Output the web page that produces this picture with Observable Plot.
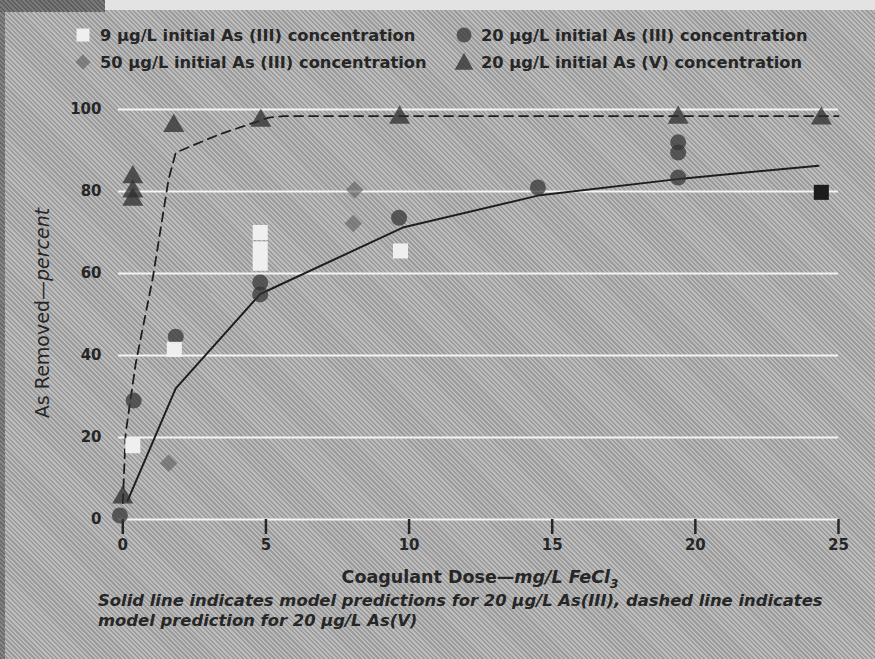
<!DOCTYPE html>
<html>
<head>
<meta charset="utf-8">
<script src="https://cdn.jsdelivr.net/npm/d3@7"></script>
<script src="https://cdn.jsdelivr.net/npm/@observablehq/plot@0.6"></script>
<style>
  html, body { margin: 0; padding: 0; }
  body {
    width: 875px; height: 659px; overflow: hidden; position: relative;
    background: repeating-linear-gradient(45deg, #bdbdbd 0px, #bdbdbd 1.6px, #9b9b9b 1.6px, #9b9b9b 3.2px);
    font-family: "DejaVu Sans", sans-serif; color: #262626;
  }
  #topdark { position: absolute; left: 0; top: 0; width: 105px; height: 12px;
    background: repeating-linear-gradient(45deg, #5e5e5e 0px, #5e5e5e 1.6px, #7a7a7a 1.6px, #7a7a7a 3.2px); }
  #topband { position: absolute; left: 105px; top: 0; width: 770px; height: 10px; background: #e3e3e3; }
  #leftstrip { position: absolute; left: 0; top: 12px; width: 5px; height: 647px;
    background: repeating-linear-gradient(45deg, #6a6a6a 0px, #6a6a6a 1.6px, #858585 1.6px, #858585 3.2px); }
  .leg { position: absolute; height: 22px; display: flex; align-items: center;
    font-weight: bold; font-size: 16.3px; white-space: nowrap; }
  .leg svg { width: 22px; height: 22px; margin-right: 6px; overflow: visible; }
  #chart { position: absolute; left: 0; top: 82px; }
  #ytitle { position: absolute; left: 42px; top: 313px; transform: translate(-50%, -50%) rotate(-90deg);
    font-size: 19px; white-space: nowrap; }
  #xtitle { position: absolute; left: 480px; top: 579px; transform: translate(-50%, -50%);
    font-size: 17.5px; font-weight: bold; white-space: nowrap; }
  #caption { position: absolute; left: 98px; top: 591px; font-size: 16.4px; font-weight: bold;
    font-style: italic; line-height: 20px; white-space: nowrap; }
</style>
</head>
<body>
<div id="topdark"></div>
<div id="topband"></div>
<div id="leftstrip"></div>
<div id="legend"></div>
<div id="chart"></div>
<div id="ytitle">As Removed—<i>percent</i></div>
<div id="xtitle">Coagulant Dose—<i>mg/L FeCl<sub style="font-size:12px">3</sub></i></div>
<div id="caption">Solid line indicates model predictions for 20 µg/L As(III), dashed line indicates<br>model prediction for 20 µg/L As(V)</div>
<script>
// ---- axis ticks ----
const xTicks = [0, 5, 10, 15, 20, 25];
const yTicks = [0, 20, 40, 60, 80, 100];

// ---- 9 µg/L initial As(III) (white squares) ----
const as3_9_dose = [0.35, 1.8, 4.8, 4.8, 4.8, 9.7];
const as3_9_pct  = [18, 41.5, 70, 66, 62.5, 65.5];

// ---- dark square (unlabelled point at 24.4) ----
const dark_dose = [24.4];
const dark_pct  = [79.8];

// ---- 20 µg/L initial As(III) (circles) ----
const as3_20_dose = [-0.1, 0.38, 1.85, 4.8, 4.8, 9.65, 14.5, 19.4, 19.4, 19.4];
const as3_20_pct  = [1, 29, 44.6, 57.8, 54.9, 73.6, 81, 83.4, 89.5, 92];

// ---- 50 µg/L initial As(III) (diamonds) ----
const as3_50_dose = [1.6, 8.1, 8.05];
const as3_50_pct  = [13.7, 80.4, 72.2];

// ---- 20 µg/L initial As(V) (triangles) ----
const as5_20_dose = [0, 0.35, 0.35, 0.35, 1.78, 4.82, 9.67, 19.4, 24.4];
const as5_20_pct  = [5.4, 83.5, 80, 78, 96, 97.3, 98, 98, 97.8];

// ---- model predictions ----
const solid_dose = [0.17, 1.85, 4.8, 9.78, 14.5, 19.6, 24.3];
const solid_pct  = [4.6, 32, 55, 71.2, 79, 83.2, 86.3];
const dashed_dose = [0, 0.1, 0.45, 1.05, 1.6, 1.85, 3.4, 5.1, 5.6, 25];
const dashed_pct  = [4, 21, 38, 59, 83, 89.5, 94, 98, 98.4, 98.4];

// ---- legend entries ----
const legendLabels = [
  "9 µg/L initial As (III) concentration",
  "20 µg/L initial As (III) concentration",
  "50 µg/L initial As (III) concentration",
  "20 µg/L initial As (V) concentration"
];

const rows = (xs, ys) => xs.map((d, i) => ({dose: d, pct: ys[i]}));

const sqStyle = {fill: "#f2f2f2", fillOpacity: 0.95};
const circStyle = {fill: "#333333", fillOpacity: 0.72};
const diaStyle = {fill: "#5e5e5e", fillOpacity: 0.6};
const triStyle = {fill: "#2e2e2e", fillOpacity: 0.75};

const chart = Plot.plot({
  width: 875,
  height: 483,
  marginTop: 27,
  marginBottom: 46,
  marginLeft: 118,
  marginRight: 37,
  style: {background: "transparent", fontFamily: "DejaVu Sans", color: "#262626"},
  x: {domain: [-0.15, 25]},
  y: {domain: [0, 100]},
  marks: [
    Plot.gridY(yTicks, {stroke: "#f4f4f4", strokeOpacity: 1, strokeWidth: 2}),
    Plot.axisY(yTicks, {tickSize: 0, tickPadding: 17, fontSize: 15, fontWeight: "bold", color: "#262626", label: null}),
    Plot.axisX(xTicks, {tickSize: 15, tickPadding: 5, strokeWidth: 2.5, fontSize: 15, fontWeight: "bold", color: "#262626", label: null}),
    Plot.line(rows(solid_dose, solid_pct), {x: "dose", y: "pct", stroke: "#1e1e1e", strokeWidth: 2}),
    Plot.line(rows(dashed_dose, dashed_pct), {x: "dose", y: "pct", stroke: "#1e1e1e", strokeWidth: 1.8, strokeDasharray: "9,6"}),
    Plot.dot(rows(as3_50_dose, as3_50_pct), {x: "dose", y: "pct", symbol: "square", r: 7, rotate: 45, ...diaStyle}),
    Plot.dot(rows(as5_20_dose, as5_20_pct), {x: "dose", y: "pct", symbol: "triangle", r: 7.8, ...triStyle}),
    Plot.dot(rows(as3_20_dose, as3_20_pct), {x: "dose", y: "pct", symbol: "circle", r: 8, ...circStyle}),
    Plot.dot(rows(as3_9_dose, as3_9_pct), {x: "dose", y: "pct", symbol: "square", r: 8.5, ...sqStyle}),
    Plot.dot(rows(dark_dose, dark_pct), {x: "dose", y: "pct", symbol: "square", r: 8.5, fill: "#1c1c1c"})
  ]
});
document.getElementById("chart").appendChild(chart);

// ---- legend (2 x 2) ----
const legendPos = [
  {left: 72, top: 24, sym: "square", style: sqStyle, rot: 0, size: 13},
  {left: 453, top: 24, sym: "circle", style: circStyle, rot: 0, size: 15},
  {left: 72, top: 51, sym: "diamond", style: diaStyle, rot: 45, size: 11},
  {left: 453, top: 51, sym: "triangle", style: triStyle, rot: 0, size: 17}
];
const legend = document.getElementById("legend");
legendLabels.forEach((label, i) => {
  const p = legendPos[i];
  const div = document.createElement("div");
  div.className = "leg";
  div.style.left = p.left + "px";
  div.style.top = p.top + "px";
  let shape;
  if (p.sym === "circle") shape = `<circle cx="11" cy="11" r="${p.size/2}"/>`;
  else if (p.sym === "triangle") shape = `<path d="M11,${11 - p.size*0.55} L${11 + p.size*0.55},${11 + p.size*0.45} L${11 - p.size*0.55},${11 + p.size*0.45}Z"/>`;
  else shape = `<rect x="${11 - p.size/2}" y="${11 - p.size/2}" width="${p.size}" height="${p.size}" transform="rotate(${p.rot} 11 11)"/>`;
  div.innerHTML = `<svg viewBox="0 0 22 22"><g fill="${p.style.fill}" fill-opacity="${p.style.fillOpacity}">${shape}</g></svg><span>${label}</span>`;
  legend.appendChild(div);
});
</script>
</body>
</html>
